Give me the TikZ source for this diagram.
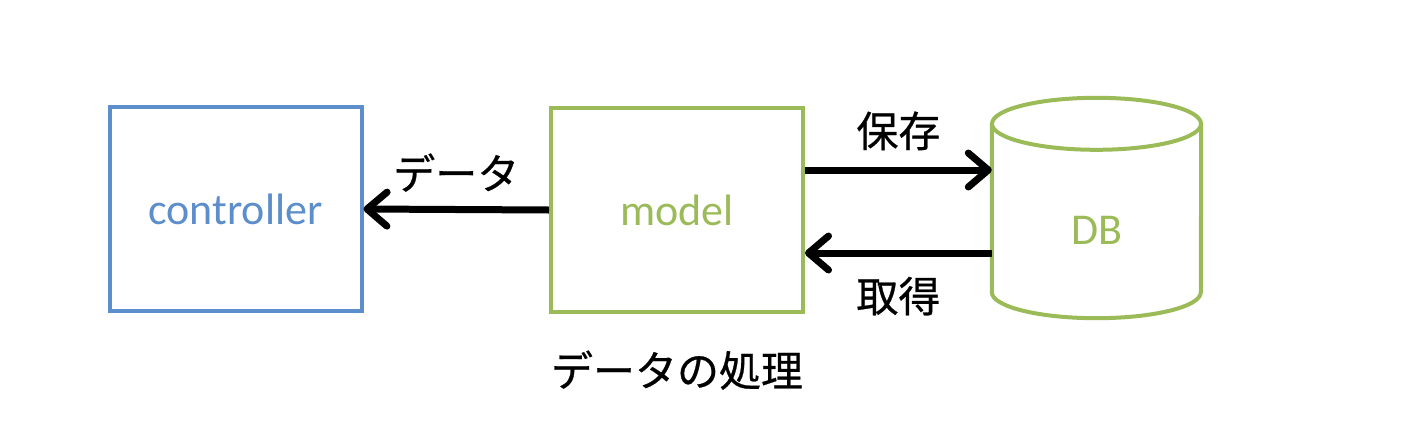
\documentclass[tikz,border=0pt]{standalone}
\usepackage{fontspec}
\setmainfont{Carlito}
\newfontfamily\jp[FakeBold=0.6]{Noto Sans CJK JP}
\usetikzlibrary{arrows.meta, positioning}
\definecolor{ctrlblue}{RGB}{92,142,203}
\definecolor{modelgreen}{RGB}{155,187,89}

\begin{document}
\begin{tikzpicture}[x=1pt, y=-1pt,
    box/.style={draw, line width=4pt, minimum width=252pt, minimum height=204pt, font=\fontsize{44}{52}\selectfont},
    flow/.style={-{Straight Barb[length=20pt, width=34pt, line cap=round, line join=round]}, line width=7pt},
    lbl/.style={font=\jp\fontsize{42}{50}\selectfont}]
    \useasboundingbox (0, 0) rectangle (1404, 442);

    %Nodes
    \node[box, draw=ctrlblue, text=ctrlblue] at (235.5, 209) (controller) {controller};
    \node[box, draw=modelgreen, text=modelgreen] at (677, 210) (model) {model};
    \node[minimum width=209pt, minimum height=220pt, inner sep=0pt] at (1096.5, 208) (db) {};
    \node[text=modelgreen, font=\fontsize{44}{52}\selectfont] at (1096.5, 230) (dbname) {DB};
    \node[lbl, below=33pt of model] (process) {データの処理};

    %Cylinder
    \draw[modelgreen, line width=4pt] ([yshift=-26pt]db.north west) -- ([yshift=26pt]db.south west)
        arc[start angle=180, end angle=360, x radius=104.5pt, y radius=26pt] -- ([yshift=-26pt]db.north east);
    \draw[modelgreen, line width=4pt] ([yshift=-26pt]db.north) ellipse [x radius=104.5pt, y radius=26pt];

    %Lines
    \coordinate (save) at ([yshift=40pt]model.east);
    \coordinate (load) at ([yshift=-43pt]model.east);
    \draw[flow] (model.west) -- (controller.east) node [lbl, above=11pt, midway] {データ};
    \draw[flow] (save) -- (save -| db.west) node [lbl, above=13pt, midway] {保存};
    \draw[flow] (load -| db.west) -- (load) node [lbl, below=17pt, midway] {取得};

\end{tikzpicture}
\end{document}
